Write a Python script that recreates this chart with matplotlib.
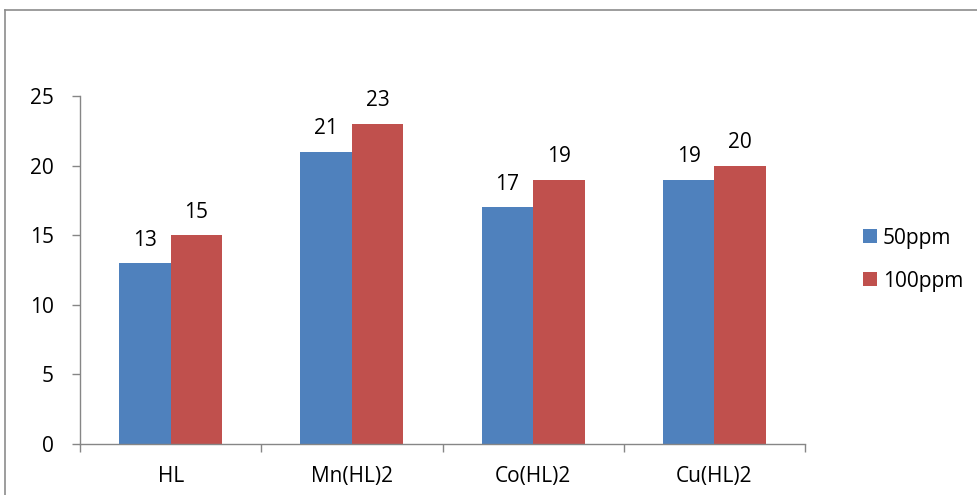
import matplotlib
matplotlib.use("Agg")
import matplotlib.pyplot as plt
import numpy as np
from matplotlib.lines import Line2D

categories = ["HL", "Mn(HL)2", "Co(HL)2", "Cu(HL)2"]
series_names = ["50ppm", "100ppm"]
vals_50 = [13, 21, 17, 19]
vals_100 = [15, 23, 19, 20]
yticks = [0, 5, 10, 15, 20, 25]

plt.rcParams['font.family'] = ['Open Sans', 'DejaVu Sans']
FS = 15

fig = plt.figure(figsize=(9.77, 4.95), dpi=100)
ax = fig.add_axes([80/977, 1-444/495, (805-80)/977, (444-96)/495])

x = np.arange(len(categories))
w = 0.284
colors = ["#4F81BD", "#C0504D"]
b1 = ax.bar(x - w/2, vals_50, w, color=colors[0], label=series_names[0])
b2 = ax.bar(x + w/2, vals_100, w, color=colors[1], label=series_names[1])
for bars, vals in ((b1, vals_50), (b2, vals_100)):
    for rect, v in zip(bars, vals):
        ax.annotate(str(v), (rect.get_x() + rect.get_width()/2, v),
                    xytext=(0, 9), textcoords="offset points",
                    ha="center", va="bottom", fontsize=FS, color="black")

ax.set_xlim(-0.5, len(categories) - 0.5)
ax.set_ylim(0, 25)
ax.set_yticks(yticks)
ax.set_yticklabels([str(t) for t in yticks], fontsize=FS)
ax.set_xticks(x)
ax.set_xticklabels(categories, fontsize=FS)
ax.set_xticks(np.arange(len(categories) + 1) - 0.5, minor=True)
ax.tick_params(axis='x', which='major', length=0, pad=16)
ax.tick_params(axis='x', which='minor', length=6, color="#868686", width=1)
ax.tick_params(axis='y', which='major', length=6, color="#868686", width=1, pad=13)
for s in ("top", "right"):
    ax.spines[s].set_visible(False)
for s in ("left", "bottom"):
    ax.spines[s].set_color("#868686")
    ax.spines[s].set_linewidth(1)

leg = fig.legend(handles=[b1, b2], labels=series_names, loc="upper left",
                 bbox_to_anchor=(846/977, 1-211/495), frameon=False,
                 fontsize=FS, handlelength=0.67, handleheight=0.67,
                 handletextpad=0.3, labelspacing=1.05, borderpad=0.3)

# outer chart border
fig.add_artist(Line2D([5/977, 5/977], [0, 1-10/495], transform=fig.transFigure,
                      color="#8c8c8c", lw=1.2))
fig.add_artist(Line2D([5/977, 1], [1-10/495, 1-10/495], transform=fig.transFigure,
                      color="#8c8c8c", lw=1.2))

fig.savefig("out.png", dpi=100)
